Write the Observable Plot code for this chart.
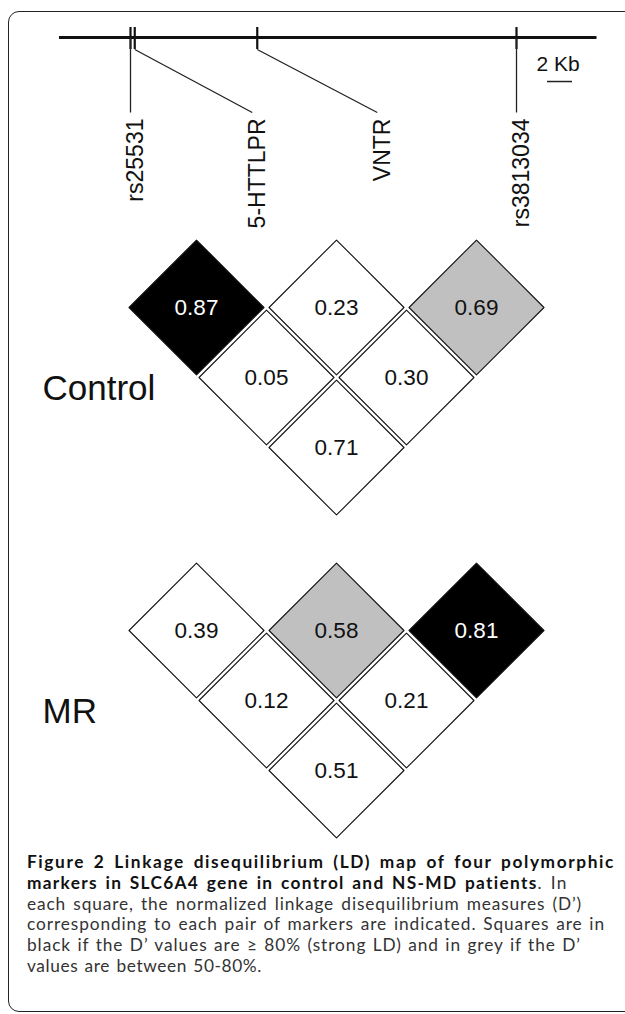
<!DOCTYPE html>
<html><head><meta charset="utf-8">
<script src="https://cdn.jsdelivr.net/npm/d3@7"></script>
<script src="https://cdn.jsdelivr.net/npm/@observablehq/plot@0.6"></script>
<style>
html,body{margin:0;padding:0;background:#fff;width:625px;height:1014px;overflow:hidden;}
#frame{position:absolute;left:8px;top:11px;width:660px;height:1001px;border:1.4px solid #222;border-radius:11px;box-sizing:border-box;}
.abs{position:absolute;}
.group{position:absolute;font-family:"Liberation Sans",Arial,sans-serif;font-size:35px;line-height:35px;color:#111;white-space:nowrap;}
#caption{position:absolute;left:27px;top:852px;font-family:Lato,"Open Sans",sans-serif;font-size:17.3px;line-height:20.8px;color:#333;}
#caption div{white-space:nowrap;height:20.8px;}
#caption span.l{display:inline-block;}
#caption b{color:#111;font-weight:700;}
</style></head><body>
<div id="frame"></div>
<div id="gene" class="abs" style="left:0;top:0"></div>
<div id="ctrl" class="abs" style="left:0;top:220px"></div>
<div id="mr" class="abs" style="left:0;top:540px"></div>
<div class="group" style="left:42.5px;top:370.4px">Control</div>
<div class="group" style="left:42.5px;top:693.4px">MR</div>
<div id="caption">
<div><span class="l" data-w="588"><b>Figure 2 Linkage disequilibrium (LD) map of four polymorphic</b></span></div>
<div><span class="l" data-w="541"><b>markers in SLC6A4 gene in control and NS-MD patients</b>. In</span></div>
<div><span class="l" data-w="555">each square, the normalized linkage disequilibrium measures (D’)</span></div>
<div><span class="l" data-w="578">corresponding to each pair of markers are indicated. Squares are in</span></div>
<div><span class="l" data-w="554">black if the D’ values are ≥ 80% (strong LD) and in grey if the D’</span></div>
<div><span class="l" data-w="235">values are between 50-80%.</span></div>
</div>
<script>
// ---- data ----
const markers = ["rs25531", "5-HTTLPR", "VNTR", "rs3813034"];
const markerKb = [5.68, 6.02, 15.82, 36.56];     // position on gene (kb)
const labelKb = [5.68, 15.42, 25.42, 36.56];     // where each label's leader line ends (kb)
const geneKb = [0, 43];
const scaleBarKb = [39.04, 41.04];
const scaleBarLabel = "2 Kb";
const pairs = [[0, 1], [1, 2], [2, 3], [0, 2], [1, 3], [0, 3]];
const controlD = [0.87, 0.23, 0.69, 0.05, 0.30, 0.71];
const controlLD = ["strong", "none", "moderate", "none", "none", "none"];
const mrD = [0.39, 0.58, 0.81, 0.12, 0.21, 0.51];
const mrLD = ["none", "moderate", "strong", "none", "none", "none"];

// ---- layout / style ----
const FONT = '"Liberation Sans", Arial, sans-serif';
const shadeFill = {strong: "#000", moderate: "#c0c0c0", none: "#fff"};
const L = {tickTop: -0.133, shortTick: 0.16, connEnd: 1, labelTop: 1.08, kbText: 0.44, kbBar: 0.587};

const track = markers.map((m, k) => ({m, kb: markerKb[k], lab: labelKb[k]}));
const gene = Plot.plot({
  width: 625, height: 240,
  marginLeft: 59, marginRight: 28.5, marginTop: 37, marginBottom: 128,
  x: {domain: geneKb, axis: null},
  y: {domain: [0, 1], axis: null, reverse: true},
  style: {fontFamily: FONT, background: "transparent", overflow: "visible"},
  marks: [
    Plot.ruleY([0], {x1: geneKb[0], x2: geneKb[1], stroke: "#111", strokeWidth: 3}),
    Plot.ruleX(track, {x: "kb", y1: L.tickTop, y2: L.shortTick, stroke: "#111", strokeWidth: 2.2}),
    Plot.link(track, {x1: "kb", y1: d => d.kb === d.lab ? 0 : L.shortTick, x2: "lab", y2: L.connEnd, stroke: "#222", strokeWidth: 1.3}),
    Plot.text(track, {x: "lab", y: L.labelTop, text: "m", rotate: -90, textAnchor: "end", dx: 5, fontSize: 23, fill: "#111"}),
    Plot.ruleY([L.kbBar], {x1: scaleBarKb[0], x2: scaleBarKb[1], stroke: "#222", strokeWidth: 1.5}),
    Plot.text([scaleBarLabel], {x: (scaleBarKb[0] + scaleBarKb[1]) / 2, y: L.kbText, text: d => d, lineAnchor: "bottom", dx: -2, fontSize: 21, fill: "#111"})
  ]
});
document.getElementById("gene").append(gene);

const SIZE = 0.964; // fraction of the grid step filled by each square
function ldPlot(values, ld, mt) {
  const cells = pairs.map(([i, j], k) => ({k, cx: (i + j) / 2, d: j - i, v: values[k], ld: ld[k]}));
  const verts = cells.flatMap(c => [
    [c.cx - SIZE / 2, c.d], [c.cx, c.d - SIZE], [c.cx + SIZE / 2, c.d], [c.cx, c.d + SIZE]
  ].map(([x, y]) => ({k: c.k, x, y, ld: c.ld})));
  const marks = Object.keys(shadeFill).map(s =>
    Plot.line(verts.filter(v => v.ld === s), {x: "x", y: "y", z: "k", fill: shadeFill[s], stroke: "#111", strokeWidth: 1.1, curve: "linear-closed"})
  );
  marks.push(
    Plot.text(cells.filter(c => c.ld !== "strong"), {x: "cx", y: "d", text: c => c.v.toFixed(2), fontSize: 22.5, fill: "#111"}),
    Plot.text(cells.filter(c => c.ld === "strong"), {x: "cx", y: "d", text: c => c.v.toFixed(2), fontSize: 22.5, fill: "#fff"})
  );
  return Plot.plot({
    width: 625, height: 320,
    marginLeft: 126, marginRight: 79, marginTop: mt, marginBottom: 320 - mt - 280,
    x: {domain: [0, 3], axis: null},
    y: {domain: [0, 4], axis: null, reverse: true},
    style: {fontFamily: FONT, background: "transparent", overflow: "visible"},
    marks
  });
}
document.getElementById("ctrl").append(ldPlot(controlD, controlLD, 17));
document.getElementById("mr").append(ldPlot(mrD, mrLD, 20));

// fit each caption line to the width it has in the original figure
function fitCaption() {
  document.querySelectorAll("#caption span.l").forEach(s => {
    s.style.letterSpacing = "0px";
    s.style.wordSpacing = "0px";
    const w = s.getBoundingClientRect().width;
    const txt = s.textContent;
    const n = txt.length;
    const spaces = (txt.match(/ /g) || []).length || 1;
    const extra = +s.dataset.w - w;
    s.style.letterSpacing = (0.8 * extra / n).toFixed(3) + "px";
    s.style.wordSpacing = (0.2 * extra / spaces).toFixed(3) + "px";
  });
}
fitCaption();
if (document.fonts && document.fonts.ready) document.fonts.ready.then(fitCaption);
</script>
</body></html>
